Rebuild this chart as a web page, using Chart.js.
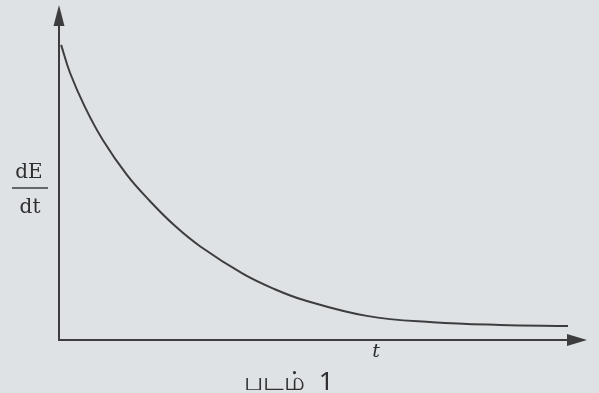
<!DOCTYPE html>
<html>
<head>
<meta charset="utf-8">
<script src="https://cdn.jsdelivr.net/npm/chart.js@4/dist/chart.umd.min.js"></script>
<style>
  html, body { margin: 0; padding: 0; background: #dfe2e4; }
  #wrap { width: 599px; height: 393px; position: relative; }
</style>
</head>
<body>
<div id="wrap"><canvas id="decayChart" width="599" height="393"></canvas></div>
<script>
// time (percent of axis length) and dE/dt (percent of axis height)
const timeValues = [0.4, 2.1, 4.9, 8.3, 12.9, 17.2, 22.0, 26.7, 34.8, 40.5, 46.2, 58.3, 70.8, 83.5, 96.4];
const rateValues = [88.1, 79.7, 69.6, 59.7, 49.2, 41.5, 34.0, 28.0, 19.8, 15.4, 12.0, 7.2, 5.3, 4.5, 4.2];
const yLabelTop = "dE";
const yLabelBottom = "dt";
const xLabel = "t";
const caption = "படம்  1";

const ink = "#3d3d3f";

const points = timeValues.map((t, i) => ({ x: t, y: rateValues[i] }));

// draws the arrowed axes and the labels of the textbook figure
const axesPlugin = {
  id: "figureAxes",
  afterDatasetsDraw(chart) {
    const ctx = chart.ctx;
    const xs = chart.scales.x;
    const ys = chart.scales.y;
    const x0 = xs.getPixelForValue(0);
    const y0 = ys.getPixelForValue(0);
    const xEnd = xs.getPixelForValue(100);
    const yEnd = ys.getPixelForValue(100);

    ctx.save();
    ctx.strokeStyle = ink;
    ctx.fillStyle = ink;
    ctx.lineWidth = 2;

    // y axis with arrow
    ctx.beginPath();
    ctx.moveTo(x0, y0);
    ctx.lineTo(x0, yEnd + 18);
    ctx.stroke();
    ctx.beginPath();
    ctx.moveTo(x0, yEnd);
    ctx.lineTo(x0 - 5.5, yEnd + 21);
    ctx.lineTo(x0 + 5.5, yEnd + 21);
    ctx.closePath();
    ctx.fill();

    // x axis with arrow
    ctx.beginPath();
    ctx.moveTo(x0 - 1, y0);
    ctx.lineTo(xEnd - 18, y0);
    ctx.stroke();
    ctx.beginPath();
    ctx.moveTo(xEnd, y0);
    ctx.lineTo(xEnd - 20, y0 - 6);
    ctx.lineTo(xEnd - 20, y0 + 6);
    ctx.closePath();
    ctx.fill();

    // dE / dt label
    ctx.fillStyle = "#2f2f31";
    ctx.font = "20px 'DejaVu Serif'";
    ctx.textAlign = "center";
    ctx.textBaseline = "alphabetic";
    ctx.fillText(yLabelTop, 29, 178);
    ctx.fillText(yLabelBottom, 30, 213);
    ctx.lineWidth = 1.6;
    ctx.beginPath();
    ctx.moveTo(12, 188);
    ctx.lineTo(48, 188);
    ctx.stroke();

    // t label
    ctx.font = "italic 19px 'DejaVu Serif'";
    ctx.fillText(xLabel, 376, 357);

    // caption
    ctx.font = "26px 'Noto Sans', 'DejaVu Sans', sans-serif";
    ctx.fillText(caption, 289, 390);
    ctx.restore();
  }
};

new Chart(document.getElementById("decayChart"), {
  type: "scatter",
  data: {
    datasets: [{
      data: points,
      showLine: true,
      borderColor: ink,
      borderWidth: 2,
      pointRadius: 0,
      tension: 0.4,
      fill: false,
    }],
  },
  options: {
    responsive: false,
    animation: false,
    layout: { padding: { left: 59, right: 12, top: 5, bottom: 53 } },
    scales: {
      x: { type: "linear", min: 0, max: 100, display: false },
      y: { type: "linear", min: 0, max: 100, display: false },
    },
    plugins: {
      legend: { display: false },
      tooltip: { enabled: false },
    },
  },
  plugins: [axesPlugin],
});
</script>
</body>
</html>
